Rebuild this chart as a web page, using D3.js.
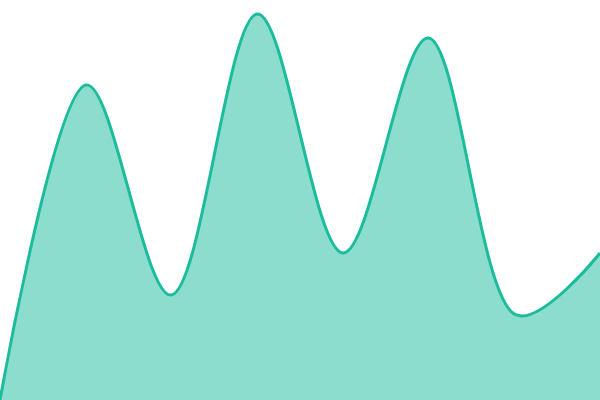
<!DOCTYPE html>
<html>
<head>
<meta charset="utf-8">
<script src="https://cdn.jsdelivr.net/npm/d3@7"></script>
<style>
body { margin: 0; background: #fff; }
</style>
</head>
<body>
<script>
var xValues = [0, 1, 2, 3, 4, 5, 6, 7];
var yValues = [0, 315, 105, 386, 147, 362, 86, 147];

var width = 600, height = 400;

var data = xValues.map(function (x, i) { return { x: x, y: yValues[i] }; });

var xScale = d3.scaleLinear()
	.domain([0, 7])
	.range([0, width]);

var yScale = d3.scaleLinear()
	.domain([0, 400])
	.range([height, 0]);

var curve = d3.curveCatmullRom.alpha(0.35);

var area = d3.area()
	.x(function (d) { return xScale(d.x); })
	.y0(height)
	.y1(function (d) { return yScale(d.y); })
	.curve(curve);

var line = d3.line()
	.x(function (d) { return xScale(d.x); })
	.y(function (d) { return yScale(d.y); })
	.curve(curve);

var svg = d3.select("body").append("svg")
	.attr("width", width)
	.attr("height", height);

svg.append("path")
	.datum(data)
	.attr("d", area)
	.attr("fill", "#1abc9c")
	.attr("fill-opacity", 0.5);

svg.append("path")
	.datum(data)
	.attr("d", line)
	.attr("fill", "none")
	.attr("stroke", "#1abc9c")
	.attr("stroke-width", 3);
</script>
</body>
</html>
